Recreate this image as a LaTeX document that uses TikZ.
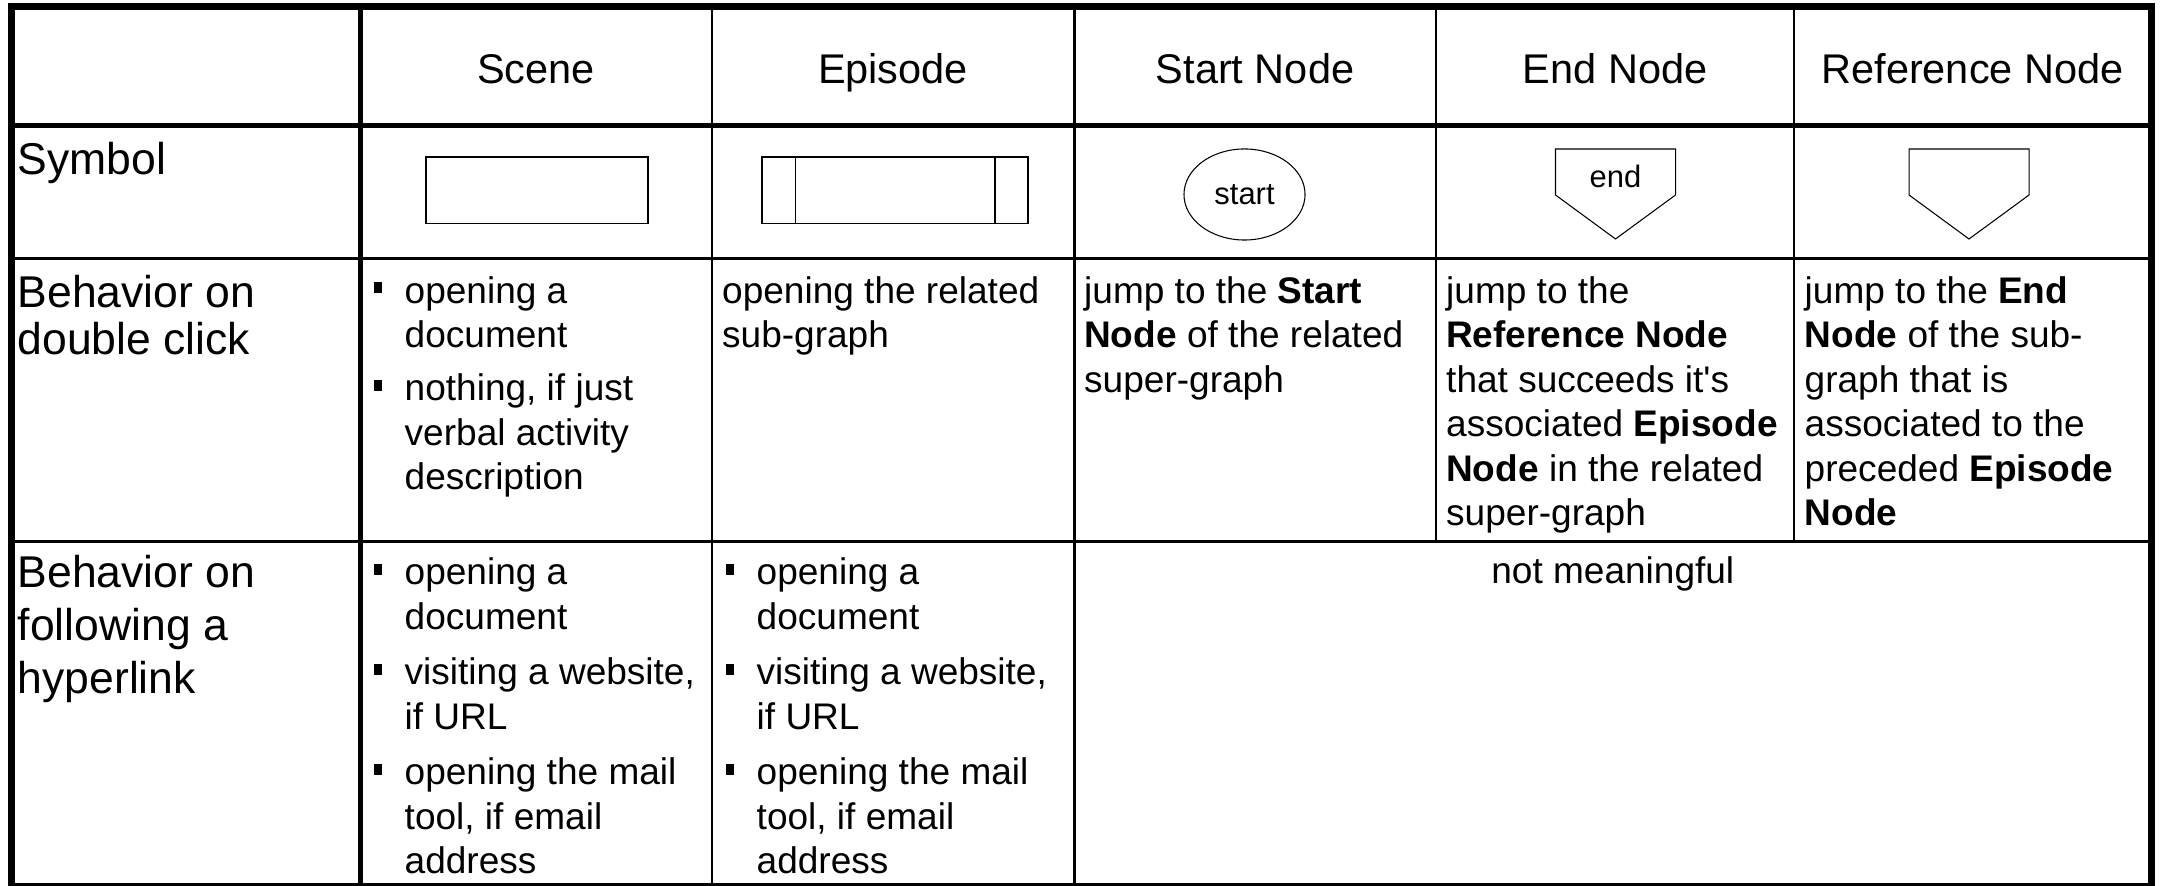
\documentclass[tikz,border=0pt]{standalone}
\usepackage{fontspec}
\setmainfont{Liberation Sans}
\usetikzlibrary{shapes.geometric}
\newcommand\txtfont{\fontsize{10.53}{12.66}\selectfont}
\newcommand\hdfont{\fontsize{11.8}{14}\selectfont}
\newcommand\lblfont{\fontsize{12.66}{13.37}\selectfont}
\newcommand\shpfont{\fontsize{8.8}{10}\selectfont}
\newcommand\bsq{\rule[.1cm]{.08cm}{.11cm}}
\newcommand\itm[1]{\makebox[.31cm][l]{\bsq}#1}
\newcommand\itmind{\hspace*{.31cm}}
\tikzset{
	head/.style={anchor=base,font=\hdfont,inner sep=0pt},
	rowlbl/.style={anchor=north west,align=left,font=\lblfont,inner sep=0pt,execute at begin node={\rule{0pt}{.4cm}}},
	cell/.style={anchor=north west,align=left,font=\txtfont,inner sep=0pt,execute at begin node={\rule{0pt}{.35cm}}},
	grid/.style={line width=.75pt},
	symb/.style={line width=.4pt}
}
\begin{document}
\begin{tikzpicture}[x=.01cm,y=-.01cm]
	\useasboundingbox (0,0) rectangle (2161,886);
	\draw[line width=2pt] (11.5,6.5) rectangle (2151,886.5);
	\draw[line width=1.4pt] (11.5,125.8) -- (2151,125.8) (360.5,6.5) -- (360.5,886.5);
	\foreach \y in {258.8,541.5} \draw[grid] (11.5,\y) -- (2151,\y);
	\foreach \x/\b in {712/886.5,1074.5/886.5,1436/541.5,1794/541.5} \draw[grid] (\x,6.5) -- (\x,\b);
	\foreach \x/\t/\n in {536/Scene/hscene,893/Episode/hepisode,1255/Start Node/hstart,1615/End Node/hend,1972.5/Reference Node/href}
		\node[head] (\n) at (\x,84) {\t};
	\draw[symb] (426,157) rectangle (648,223.5);
	\draw[symb] (762,157) rectangle (1028,223.5) (795.5,157) -- (795.5,223.5) (995,157) -- (995,223.5);
	\node[draw,ellipse,line width=.3pt,minimum width=1.21cm,minimum height=.91cm,font=\shpfont] (start) at (1244.5,194.5) {start};
	\foreach \x in {1615.5,1969} \draw[line width=.3pt] (\x-60,149) -- ++(120,0) -- ++(0,46) -- ++(-60,44) -- ++(-60,-44) -- cycle;
	\node[font=\shpfont,anchor=base,inner sep=0pt] (endlbl) at (1615.5,188) {end};
	\node[rowlbl] (symbol) at (17,134) {Symbol};
	\node[rowlbl] (dblclick) at (17,275) {Behavior on\\double click};
	\node[rowlbl] (hyperlink) at (17,555) {Behavior on\\[.055cm]following a\\[.055cm]hyperlink};
	\node[cell] (scenedbl) at (373,275.5) {\itm{opening a}\\\itmind document\\[.085cm]\itm{nothing, if just}\\\itmind verbal activity\\\itmind description};
	\node[cell] (episdbl) at (721.5,275.5) {opening the related\\sub-graph};
	\node[cell] (startdbl) at (1083.5,275.5) {jump to the \textbf{Start}\\\textbf{Node} of the related\\super-graph};
	\node[cell] (enddbl) at (1445.5,275.5) {jump to the\\\textbf{Reference Node}\\that succeeds it\textquotesingle s\\associated \textbf{Episode}\\\textbf{Node} in the related\\super-graph};
	\node[cell] (refdbl) at (1804,275.5) {jump to the \textbf{End}\\\textbf{Node} of the sub-\\graph that is\\associated to the\\preceded \textbf{Episode}\\\textbf{Node}};
	\foreach \x/\n in {373/scenelink,725/epislink}
		\node[cell] (\n) at (\x,557) {\itm{opening a}\\\itmind document\\[.11cm]\itm{visiting a website,}\\\itmind if URL\\[.11cm]\itm{opening the mail}\\\itmind tool, if email\\\itmind address};
	\node[anchor=base,font=\txtfont,inner sep=0pt] (notmean) at (1612.8,584) {not meaningful};
\end{tikzpicture}
\end{document}
